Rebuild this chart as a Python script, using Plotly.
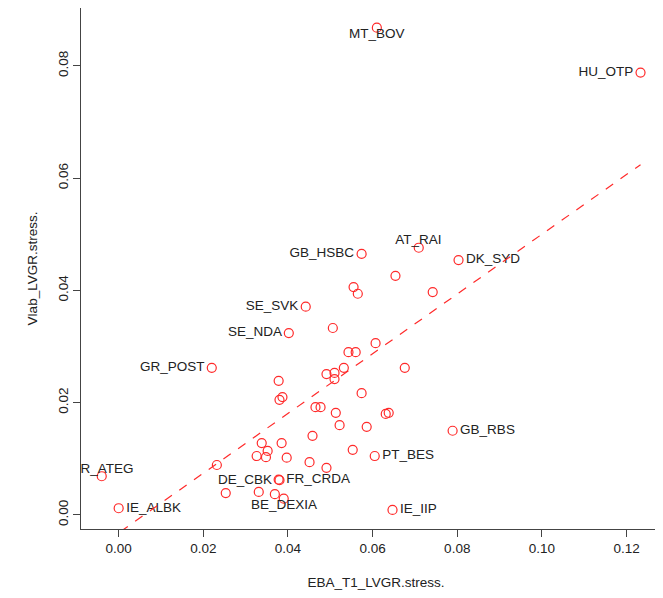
import plotly.graph_objects as go

labels = ["MT_BOV", "HU_OTP", "AT_RAI", "GB_HSBC", "DK_SYD", "SE_SVK", "SE_NDA", "GR_POST",
          "GB_RBS", "PT_BES", "GR_ATEG", "DE_CBK", "FR_CRDA", "BE_DEXIA", "IE_ALBK", "IE_IIP"]
lab_x = [0.0610, 0.1233, 0.0709, 0.0574, 0.0803, 0.0442, 0.0402, 0.0220,
         0.0789, 0.0605, -0.0040, 0.0380, 0.0378, 0.0390, 0.0000, 0.0647]
lab_y = [0.0868, 0.0788, 0.0476, 0.0465, 0.0454, 0.0371, 0.0324, 0.0262,
         0.0150, 0.0105, 0.0069, 0.0062, 0.0063, 0.0029, 0.0012, 0.0009]
lab_pos = ["bottom center", "middle left", "top center", "middle left", "middle right",
           "middle left", "middle left", "middle left", "middle right", "middle right",
           "top center", "middle left", "middle right", "bottom center", "middle right",
           "middle right"]

other_x = [0.0654, 0.0555, 0.0565, 0.0742, 0.0506, 0.0607, 0.0543, 0.0560, 0.0532, 0.0676,
           0.0491, 0.0510, 0.0510, 0.0378, 0.0574, 0.0387, 0.0380, 0.0465, 0.0477, 0.0513,
           0.0631, 0.0638, 0.0522, 0.0586, 0.0458, 0.0338, 0.0385, 0.0352, 0.0326, 0.0348,
           0.0553, 0.0397, 0.0451, 0.0232, 0.0491, 0.0253, 0.0331, 0.0369]
other_y = [0.0426, 0.0406, 0.0394, 0.0397, 0.0333, 0.0306, 0.0290, 0.0290, 0.0262, 0.0262,
           0.0251, 0.0253, 0.0242, 0.0239, 0.0217, 0.0210, 0.0205, 0.0192, 0.0192, 0.0182,
           0.0180, 0.0182, 0.0160, 0.0157, 0.0141, 0.0128, 0.0128, 0.0114, 0.0105, 0.0103,
           0.0116, 0.0102, 0.0094, 0.0089, 0.0084, 0.0039, 0.0041, 0.0037]

fit_x = [-0.01, 0.1233]
fit_intercept = -0.0032
fit_slope = 0.532

red = "#ff2a2a"
font = dict(family="Liberation Sans, Arial", size=13.5, color="#222")

fig = go.Figure()
fig.add_trace(go.Scatter(x=other_x + lab_x, y=other_y + lab_y, mode="markers",
                         marker=dict(symbol="circle-open", size=9, color=red, line=dict(width=1.2))))
fig.add_trace(go.Scatter(x=lab_x, y=lab_y, mode="text", text=["  " + t + "  " for t in labels],
                         textposition=lab_pos, textfont=font, cliponaxis=True))
fig.add_trace(go.Scatter(x=fit_x, y=[fit_intercept + fit_slope * v for v in fit_x],
                         mode="lines", line=dict(color=red, dash="dash", width=1.2)))

axis = dict(showgrid=False, zeroline=False, showline=True, linecolor="#444", linewidth=1.2,
            ticks="outside", ticklen=7, tickcolor="#444", tickfont=font, mirror=False,
            automargin=False)
fig.update_layout(
    width=663, height=598, showlegend=False,
    plot_bgcolor="white", paper_bgcolor="white",
    margin=dict(l=73, r=0, t=0, b=77),
    xaxis=dict(axis, range=[-0.0089, 0.1305], tickvals=[0, 0.02, 0.04, 0.06, 0.08, 0.1, 0.12],
               ticktext=["0.00", "0.02", "0.04", "0.06", "0.08", "0.10", "0.12"],
               title=dict(text="EBA_T1_LVGR.stress.", font=font, standoff=22)),
    yaxis=dict(axis, range=[-0.0025, 0.0903], tickvals=[0, 0.02, 0.04, 0.06, 0.08],
               ticktext=["0.00", "0.02", "0.04", "0.06", "0.08"], tickangle=-90,
               title=dict(text="Vlab_LVGR.stress.", font=font, standoff=14)),
)
fig.write_html("out.html")
